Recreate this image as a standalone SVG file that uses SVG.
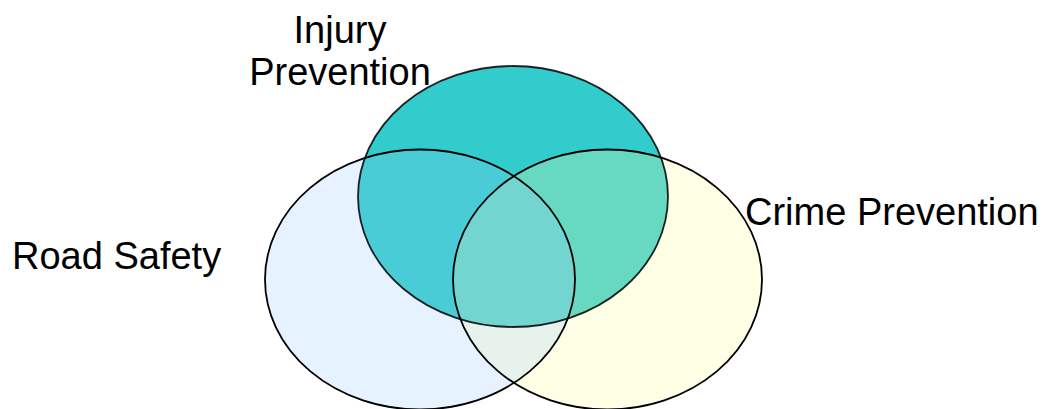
<svg xmlns="http://www.w3.org/2000/svg" width="1044" height="409" viewBox="0 0 1044 409">
  <style>
    .label { font-family: "Liberation Sans", Arial, sans-serif; font-size: 38px; fill: #000; }
    .outline { fill: none; stroke: #000; stroke-width: 1.8; }
  </style>
  <defs>
    <ellipse id="shape-road" cx="420" cy="279.5" rx="155" ry="130"/>
    <ellipse id="shape-injury" cx="513" cy="196.5" rx="155" ry="130.5"/>
    <ellipse id="shape-crime" cx="607.5" cy="279.5" rx="154.5" ry="130"/>
    <clipPath id="clip-road"><use href="#shape-road"/></clipPath>
    <clipPath id="clip-injury"><use href="#shape-injury"/></clipPath>
    <clipPath id="clip-crime"><use href="#shape-crime"/></clipPath>
  </defs>
  <rect width="1044" height="409" fill="#fff"/>

  <!-- base fills of each set -->
  <g id="fills">
    <use href="#shape-road" fill="#E6F2FF"/>
    <use href="#shape-crime" fill="#FFFFE5"/>
    <use href="#shape-injury" fill="#33CCCC"/>
    <!-- pairwise overlaps -->
    <g clip-path="url(#clip-road)">
      <use href="#shape-crime" fill="#E8F2EC"/>
      <use href="#shape-injury" fill="#4ACCD7"/>
    </g>
    <g clip-path="url(#clip-crime)">
      <use href="#shape-injury" fill="#66D9C0"/>
    </g>
    <!-- triple overlap -->
    <g clip-path="url(#clip-road)">
      <g clip-path="url(#clip-crime)">
        <use href="#shape-injury" fill="#73D5CF"/>
      </g>
    </g>
  </g>

  <g id="node-road">
    <use href="#shape-road" class="outline"/>
    <text class="label" x="12" y="269">Road Safety</text>
  </g>
  <g id="node-crime">
    <use href="#shape-crime" class="outline"/>
    <text class="label" x="745" y="225">Crime Prevention</text>
  </g>
  <g id="node-injury">
    <use href="#shape-injury" class="outline" stroke-opacity="0.85"/>
    <text class="label" x="340" y="43" text-anchor="middle">Injury</text>
    <text class="label" x="340" y="85" text-anchor="middle">Prevention</text>
  </g>
  <g id="connectors"/>
</svg>
